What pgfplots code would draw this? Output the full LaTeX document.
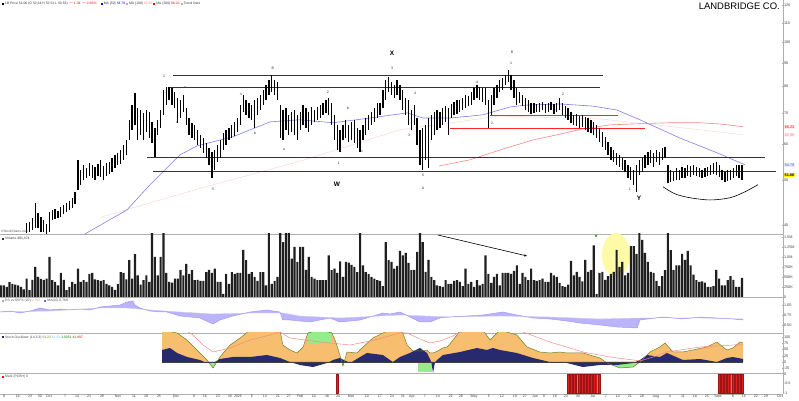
\documentclass[border=0pt]{standalone}
\usepackage{pgfplots}
\pgfplotsset{compat=1.18}
\usepackage{pgfplotstable}
\usetikzlibrary{arrows.meta}
\usepackage{fontspec}
\setmainfont{Liberation Sans}

\definecolor{maBlue}{RGB}{130,125,235}
\definecolor{maRed}{RGB}{240,110,100}
\definecolor{maPink}{RGB}{248,215,215}
\definecolor{stOrange}{RGB}{246,190,110}
\definecolor{stNavy}{RGB}{40,42,112}
\definecolor{stGreen}{RGB}{150,235,140}
\definecolor{stOlive}{RGB}{110,130,40}
\definecolor{rsPurple}{RGB}{165,155,245}
\definecolor{axGray}{RGB}{175,175,175}
\definecolor{barRed}{RGB}{220,30,30}

\pgfplotstableread{
h l v
36.8 35.2 290
37.0 35.5 290
37.4 35.8 250
37.2 35.6 370
37.8 36.0 330
37.5 36.1 310
37.9 36.3 290
38.2 36.5 250
38.0 36.6 190
40.4 38.4 460
40.6 38.6 170
41.4 39.0 430
44.6 39.4 750
42.4 39.4 500
41.6 38.6 450
41.0 38.6 430
40.2 38.0 460
42.7 38.6 1000
43.1 41.0 420
43.3 41.2 380
42.9 41.4 290
43.8 41.6 600
44.2 42.2 430
44.6 42.7 170
45.1 43.1 250
45.8 43.5 380
47.2 44.4 330
55.4 47.7 710
52.7 48.9 380
54.0 50.1 420
53.2 50.6 380
54.5 51.1 580
54.0 50.6 600
53.5 50.1 440
54.3 51.1 420
55.4 50.9 400
53.7 50.1 420
54.5 51.1 330
54.8 51.7 290
55.9 52.2 250
56.8 53.2 180
57.4 54.0 330
58.2 54.3 620
59.7 55.4 600
61.2 56.8 440
67.7 61.2 920
72.9 64.4 460
77.4 66.0 1070
71.8 61.2 540
71.1 62.8 310
70.1 61.2 420
71.1 63.8 540
70.4 61.8 380
67.0 60.3 1600
65.0 56.2 1000
67.7 62.8 540
71.1 65.0 1000
78.6 69.4 1600
79.8 72.9 600
79.8 74.8 380
79.4 72.9 360
77.8 71.8 460
75.5 66.7 460
74.8 68.3 670
76.7 70.4 540
71.8 66.0 830
68.3 62.8 580
66.7 61.8 670
66.0 61.2 420
64.4 59.7 430
62.8 58.8 400
61.8 57.4 400
60.3 55.9 620
58.8 54.0 680
57.6 50.6 600
58.2 52.7 710
59.7 54.8 380
61.2 55.9 380
63.4 58.2 80
64.4 59.7 580
65.0 61.2 330
66.0 61.8 620
67.0 62.5 580
68.3 63.8 600
72.9 66.0 600
76.7 70.4 1180
74.8 69.4 920
73.6 68.3 580
72.9 67.7 620
74.8 65.0 500
75.5 69.4 400
76.7 71.1 620
78.6 72.9 620
80.6 74.8 290
82.7 76.7 1600
84.8 77.8 330
82.7 76.7 400
81.8 74.8 500
72.9 61.8 1600
71.1 61.2 1370
71.8 64.4 1600
69.4 62.8 1600
70.4 63.8 960
71.1 62.8 1250
69.4 61.2 880
70.4 64.4 1250
72.9 66.0 1250
71.8 65.0 680
70.4 63.8 1000
72.2 66.0 500
71.1 67.0 460
72.2 67.7 420
72.9 68.3 420
73.6 69.4 420
74.8 70.1 420
75.5 69.4 1040
73.6 66.0 670
69.4 61.2 710
66.0 58.2 600
64.4 57.6 890
66.0 61.2 500
67.7 61.8 880
66.0 60.6 860
67.0 61.2 800
67.7 60.3 750
65.0 58.8 620
64.4 57.6 1600
66.0 61.2 790
68.3 62.8 620
69.4 64.4 570
70.4 66.0 500
71.8 67.0 460
73.6 68.3 420
73.6 69.4 400
78.6 71.8 270
82.7 74.8 1370
84.0 77.8 920
81.8 76.7 880
80.6 75.5 710
82.7 76.7 780
80.6 74.8 1150
78.6 71.1 1040
75.5 69.4 1100
74.8 66.0 850
71.1 64.4 670
72.9 66.0 680
68.3 59.7 1125
64.4 54.0 1600
65.0 52.7 1370
66.0 55.4 630
68.3 53.2 930
69.4 61.2 500
70.4 62.8 420
71.1 64.4 290
70.4 65.0 270
71.8 66.0 250
72.5 67.0 420
71.8 62.8 330
73.3 68.3 330
74.1 69.4 400
74.8 69.7 420
74.8 70.4 375
75.5 71.1 270
76.7 71.8 710
76.3 72.5 330
77.8 72.9 375
79.4 74.8 250
80.6 75.5 420
79.8 74.8 290
79.4 74.1 330
79.4 72.9 1040
74.8 65.0 580
76.7 69.4 350
79.4 72.9 500
80.6 75.5 580
82.7 77.8 290
83.5 78.6 600
84.8 80.6 600
86.9 81.8 600
84.8 78.6 580
82.7 75.5 650
79.4 72.9 790
77.8 73.6 330
76.7 72.5 600
75.5 71.1 500
74.8 70.4 420
73.6 69.7 710
73.6 70.1 420
73.3 70.4 400
73.6 70.4 420
74.1 71.1 460
73.3 70.1 375
73.6 70.4 375
74.1 71.1 600
73.3 69.7 540
73.6 70.4 500
75.5 71.1 350
73.6 69.4 270
72.5 68.3 250
71.8 67.7 310
70.4 66.7 900
69.4 66.0 540
69.7 65.7 625
69.0 65.0 500
69.4 65.4 390
68.7 64.4 930
68.3 63.8 625
67.7 63.4 670
67.0 62.8 1290
66.0 61.8 80
65.0 60.6 600
63.8 59.1 625
62.2 58.2 430
60.6 56.8 520
59.1 55.4 580
58.2 54.8 625
57.4 54.0 1180
56.8 53.5 750
55.9 52.7 875
55.4 52.2 540
54.0 50.6 600
53.5 50.1 1270
52.7 48.9 1270
54.0 47.2 1080
55.4 51.4 1600
55.9 52.2 1430
56.8 53.2 1100
57.6 54.0 875
58.2 54.5 625
57.4 53.5 600
58.2 54.8 400
57.6 54.0 270
58.8 55.4 520
59.1 55.9 670
54.0 49.4 1600
52.7 49.6 1170
52.2 49.9 670
53.2 50.1 790
52.7 50.1 790
53.5 50.6 1080
53.2 50.6 930
54.0 51.1 1150
53.7 50.9 790
54.0 51.4 560
53.5 51.1 420
53.2 50.9 375
52.7 50.6 390
53.2 50.9 360
53.5 51.1 250
54.0 51.4 250
54.5 51.7 270
54.8 51.4 680
54.0 50.9 460
52.7 50.1 290
52.2 49.6 290
52.7 49.9 420
52.7 50.1 520
53.2 50.6 430
54.0 51.1 250
54.0 50.6 250
54.0 50.1 475
}\bars

\pgfplotstableread{
i r
118 -1
199 -1
200 -1
201 -1
202 -1
203 -1
204 -1
205 -1
206 -1
207 -1
208 -1
209 -1
210 -1
252 -1
253 -1
254 -1
255 -1
256 -1
257 -1
258 -1
259 -1
260 -1
}\redbars

\pgfplotsset{
  panel/.style={scale only axis, width=783bp, xmin=-0.35, xmax=274.4,
    anchor=north west, axis x line*=bottom, axis y line*=right,
    x axis line style={axGray, line width=0.4bp},
    y axis line style={axGray, line width=0.4bp},
    xtick=\empty, major tick length=1.5bp, tick style={axGray},
    yticklabel style={font=\fontsize{3.8}{4}\selectfont, text=black!75, inner sep=0.8bp},
    /pgf/number format/assume math mode=true, clip=true},
}
\tikzset{tinylab/.style={font=\fontsize{3.6}{4}\selectfont, inner sep=0pt, text=black!80}}

\begin{document}
\begin{tikzpicture}
\useasboundingbox (0,0) rectangle (799bp,401bp);

% ---------------- price panel ----------------
\begin{axis}[panel, at={(0,401bp)}, height=234bp, ymode=log, ymin=38.2, ymax=123.4,
  ytick={40,50,60,70,80,90,100,110,120}, yticklabels={40,50,60,70,80,90,100,110,120}]
\addplot[maPink, line width=0.5bp] coordinates {(34.7,41.5) (69.8,48.0) (104.9,55.0) (140,64.4) (175.1,69.0) (210.2,68.0) (245.3,64.4) (260.4,62.8)};
\addplot[maBlue, line width=0.6bp] coordinates {(24.2,37.1) (28.8,38.0) (44.2,43.1) (52.3,48.9) (62.8,56.8) (68.8,59.4) (81.4,62.2) (94.4,67.0) (104.9,67.7) (116.5,66.7) (129.5,68.3) (142.5,70.1) (148.1,68.3) (157.5,68.3) (169.1,69.4) (178.6,72.2) (184.6,72.9) (196.1,73.3) (207.7,72.5) (216.1,71.1) (224.2,67.7) (238.2,61.8) (251.2,57.4) (261.1,54.0)};
\addplot[maRed!80, line width=0.6bp] coordinates {(153.7,53.7) (164.6,55.4) (175.1,58.2) (186.7,61.2) (196.1,63.0) (204.2,64.7) (213.7,66.0) (221.8,66.3) (234.7,66.7) (245.3,66.7) (252.3,66.3) (260.4,65.4)};
% trend lines
\addplot[black!80, line width=0.6bp] coordinates {(60.4,84.4) (211.2,84.4)};
\addplot[black!80, line width=0.6bp] coordinates {(59.3,79.8) (210.2,79.8)};
\addplot[black!80, line width=0.6bp] coordinates {(51.2,56.2) (268.1,56.2)};
\addplot[black!80, line width=0.6bp] coordinates {(53.3,52.4) (272,52.4)};
\addplot[red!85, line width=0.9bp] coordinates {(171.6,69.1) (216.5,69.1)};
\addplot[red!85, line width=0.9bp] coordinates {(157.5,64.7) (226,64.7)};
\addplot[black, line width=0.6bp, smooth] coordinates {(232.3,48.4) (236.5,46.7) (241.8,45.8) (248.8,45.3) (255.8,45.8) (261.1,47.2) (265.6,48.9)};
% OHLC range bars
\addplot[draw=none, mark=none, forget plot,
  error bars/.cd, y dir=plus, y explicit, error mark=none,
  error bar style={draw=black, line width=1.3bp}]
  table[x expr=\coordindex, y=l, y error plus expr=\thisrow{h}-\thisrow{l}] {\bars};
% wave labels
\node[tinylab] at (axis cs:57.2,84.4) {1};
\node[tinylab] at (axis cs:95.4,87.8) {B};
\node[tinylab] at (axis cs:137.2,87.8) {3};
\node[tinylab] at (axis cs:114.7,77.8) {2};
\node[tinylab] at (axis cs:84.2,77.1) {4};
\node[tinylab] at (axis cs:64.6,79.4) {a};
\node[tinylab] at (axis cs:121.8,71.9) {b};
\node[tinylab] at (axis cs:179.3,95.1) {B};
\node[tinylab] at (axis cs:179.0,90.0) {1};
\node[tinylab] at (axis cs:167.0,81.8) {4};
\node[tinylab] at (axis cs:197.2,77.1) {2};
\node[tinylab] at (axis cs:145.3,77.4) {4};
\node[tinylab] at (axis cs:61.8,66.7) {c};
\node[tinylab] at (axis cs:89.1,63.4) {b};
\node[tinylab] at (axis cs:99.3,58.2) {a};
\node[tinylab] at (axis cs:118.6,54.5) {1};
\node[tinylab] at (axis cs:126.7,57.6) {c};
\node[tinylab] at (axis cs:143.2,62.8) {3};
\node[tinylab] at (axis cs:172.3,66.4) {2};
\node[tinylab] at (axis cs:74.4,47.7) {5};
\node[tinylab] at (axis cs:148.1,51.2) {5};
\node[tinylab] at (axis cs:148.1,48.1) {A};
\node[tinylab] at (axis cs:220.7,47.9) {1};
\node[font=\bfseries\fontsize{6.5}{7}\selectfont, inner sep=0pt] at (axis cs:137.2,94.6) {X};
\node[font=\bfseries\fontsize{6.5}{7}\selectfont, inner sep=0pt] at (axis cs:117.9,48.9) {W};
\node[font=\bfseries\fontsize{6.5}{7}\selectfont, inner sep=0pt] at (axis cs:223.9,45.6) {Y};
\end{axis}

% right-side price value tags
\node[font=\fontsize{3.8}{4}\selectfont, text=red, fill=red!8, inner sep=0.6bp, anchor=west] at (784bp,274bp) {66.23};
\node[font=\fontsize{3.8}{4}\selectfont, text=red!50, fill=red!5, inner sep=0.6bp, anchor=west] at (784bp,266bp) {62.95};
\node[font=\fontsize{3.8}{4}\selectfont, text=blue!70, fill=blue!8, inner sep=0.6bp, anchor=west] at (784bp,236bp) {54.79};
\node[font=\bfseries\fontsize{3.8}{4}\selectfont, fill=yellow, inner sep=0.5bp, anchor=west] at (784bp,226bp) {51.06};

% titles / legends
\node[anchor=base east, inner sep=0pt, font=\fontsize{9.5}{10}\selectfont] at (780bp,391bp) {LANDBRIDGE CO.};
\node[anchor=base west, inner sep=0pt, font=\fontsize{3.4}{4}\selectfont, text=black!80] at (2bp,396bp)
 {\textcolor{black}{\rule{2bp}{2bp}} LB Price 51.06 (O 52.34 H 52.51 L 50.53) \textcolor{red}{$-$1.34 $-$2.56\%} \quad
  \textcolor{blue}{\rule{2bp}{2bp}} MA (50) \textcolor{blue}{54.79} \textcolor{red!40}{\rule{2bp}{2bp}} MA (100) \textcolor{red!50}{62.95}
  \textcolor{red}{\rule{2bp}{2bp}} MA (200) \textcolor{red}{66.23} \textcolor{black!30}{\rule{2bp}{2bp}} Trend lines};
\node[anchor=base west, inner sep=0pt, font=\fontsize{3.2}{4}\selectfont, text=black!70] at (1bp,168bp) {\textcopyright StockCharts.com};

% ---------------- volume panel ----------------
\begin{axis}[panel, at={(0,167bp)}, height=63bp, ymin=0, ymax=1575,
  ytick={0,250,500,750,1000,1250,1500}, yticklabels={0,250K,500K,750K,1.0M,1.25M,1.5M}]
\fill[yellow!35] (axis cs:215.8,1050) ellipse [x radius=14bp, y radius=22bp];
\addplot[ybar, bar width=2.15bp, fill=black!88, draw=none, forget plot]
  table[x expr=\coordindex, y=v] {\bars};
\addplot[black, line width=0.6bp, -{Stealth[length=3bp]}] coordinates {(153.3,1550) (184.6,1025)};
\addplot[only marks, mark=*, mark size=0.8bp, green!60!black] coordinates {(208.8,1530)};
\end{axis}
\node[anchor=base west, inner sep=0pt, font=\fontsize{3.4}{4}\selectfont, text=black!80] at (2bp,161bp) {\rule{2bp}{2bp} Volume 461,474};

% ---------------- RS panel ----------------
\begin{axis}[panel, at={(0,104bp)}, height=36bp, ymin=-18, ymax=18,
  ytick={-10,0,10}, yticklabels={0.50,0.75,1.00}]
\addplot[fill=rsPurple!75, draw=none] coordinates {(-0.35,3) (3.2,4) (6.7,2) (10.2,4) (13.7,7) (17.2,5) (20.7,6) (24.2,5) (27.7,6) (31.2,5) (34.7,8) (38.2,9) (41.8,10) (44.2,13) (46.3,14) (47,10) (48.8,7) (52.3,4) (55.8,3) (58.2,3) (62.8,-1) (69.8,-3) (74.4,-9) (76.8,-5) (81.4,-1) (87.4,3) (93.3,5) (97.9,3) (98.9,-5) (101.4,-5) (104.9,-6) (108.4,-7) (111.9,-5) (115.4,-3) (118.9,-7) (122.5,-6) (126,-5) (129.5,-2) (134,2) (136.5,1) (140,3) (143.5,-2) (147,-7) (150.5,-7) (154,-3) (157.5,-2) (163.5,-1) (169.1,0) (176.1,3) (181,0) (186.7,-3) (192.6,-4) (198.6,-6) (203.2,-8) (210.2,-10) (216.1,-12) (223.2,-13) (224.2,-5) (232.3,-2) (239.3,-4) (245.3,-2) (251.2,-3) (256.8,-4) (260.4,-5)
 (260.4,-4) (245.3,-3) (224.2,-3) (210.2,-4) (192.6,-2) (175.1,-1) (157.5,-2) (140,0) (118.9,-3) (104.9,-1) (98.9,2) (87.4,2) (74.4,1) (62.8,3) (52.3,5) (44.2,7) (34.7,7) (17.2,4) (-0.35,3)} -- cycle;
\addplot[rsPurple!55, line width=0.4bp] coordinates {(-0.35,3) (17.2,4) (34.7,7) (44.2,7) (52.3,5) (62.8,3) (74.4,1) (87.4,2) (98.9,2) (104.9,-1) (118.9,-3) (140,0) (157.5,-2) (175.1,-1) (192.6,-2) (210.2,-4) (224.2,-3) (245.3,-3) (260.4,-4)};
\addplot[rsPurple, line width=0.5bp] coordinates {(-0.35,3) (3.2,4) (6.7,2) (10.2,4) (13.7,7) (17.2,5) (20.7,6) (24.2,5) (27.7,6) (31.2,5) (34.7,8) (38.2,9) (41.8,10) (44.2,13) (46.3,14) (47,10) (48.8,7) (52.3,4) (55.8,3) (58.2,3) (62.8,-1) (69.8,-3) (74.4,-9) (76.8,-5) (81.4,-1) (87.4,3) (93.3,5) (97.9,3) (98.9,-5) (101.4,-5) (104.9,-6) (108.4,-7) (111.9,-5) (115.4,-3) (118.9,-7) (122.5,-6) (126,-5) (129.5,-2) (134,2) (136.5,1) (140,3) (143.5,-2) (147,-7) (150.5,-7) (154,-3) (157.5,-2) (163.5,-1) (169.1,0) (176.1,3) (181,0) (186.7,-3) (192.6,-4) (198.6,-6) (203.2,-8) (210.2,-10) (216.1,-12) (223.2,-13) (224.2,-5) (232.3,-2) (239.3,-4) (245.3,-2) (251.2,-3) (256.8,-4) (260.4,-5)};
\end{axis}
\node[anchor=base west, inner sep=0pt, font=\fontsize{3.4}{4}\selectfont, text=black!70] at (2bp,99bp) {\textcolor{rsPurple}{\rule{2bp}{2bp}} RS vs \$SPX (20) \textcolor{red!50}{0.752} \quad \textcolor{blue!60}{\rule{2bp}{2bp}} MA(20) 0.760};

% ---------------- stochastic panel ----------------
\begin{axis}[panel, at={(0,68bp)}, height=40bp, ymin=-44, ymax=116,
  ytick={-25,0,25,50,75,100}]
\addplot[fill=stOrange, draw=none] coordinates {(56.5,0) (56.5,128) (61.8,116) (65.3,88) (68.8,48) (72.3,8) (74.4,-24) (76.8,20) (80.4,68) (83.9,96) (87.4,128) (97.9,128) (98.9,68) (101.4,48) (103.9,36) (106,60) (107.7,116) (111.9,128) (116.1,116) (117.5,80) (118.9,28) (120,-16) (121.4,40) (124.9,36) (127,60) (130.5,96) (134,116) (136.5,128) (140,128) (141,116) (142.5,68) (144.6,44) (146,44) (148.1,44) (149.5,48) (150.5,36) (151.6,36) (153.3,44) (155,56) (156.5,60) (157.5,72) (158.6,88) (160,108) (161,128) (169.1,128) (171.6,88) (175.1,128) (181,108) (184.6,60) (189.1,40) (192.6,36) (196.1,40) (198.6,36) (204.2,36) (210.2,16) (212.6,-4) (217.2,-24) (221.8,-20) (224.2,0) (227.7,40) (231.2,60) (233,76) (235.8,40) (239.3,40) (242.8,48) (247.7,60) (251.2,80) (254.7,48) (256.8,56) (259.3,80) (260.4,76) (260.4,0)} -- cycle;
\addplot[fill=stGreen, draw=none] coordinates {(72.8,0) (74.4,-24) (75.7,0)} -- cycle;
\addplot[fill=stGreen, draw=none] coordinates {(119.6,0) (120,-16) (120.4,0)} -- cycle;
\addplot[fill=stGreen, draw=none] coordinates {(146.3,0) (146.3,-40) (151.2,-40) (151.2,0)} -- cycle;
\addplot[fill=stGreen, draw=none] coordinates {(212.1,0) (212.6,-4) (217.2,-24) (221.8,-20) (224.2,0)} -- cycle;
\addplot[fill=stGreen, draw=none] coordinates {(107.7,76) (107.7,130) (116.1,130) (116.1,76)} -- cycle;
\addplot[fill=stNavy, draw=none] coordinates {(56.5,0) (56.5,48) (59.3,56) (61.8,36) (65.3,20) (69.8,8) (72.3,-4) (74.4,-4) (76.8,12) (81.4,20) (87.4,20) (93.3,28) (97.9,16) (101.4,0) (104.9,-12) (109.5,-20) (114.4,-4) (116.5,8) (118.9,16) (122.5,-4) (126,20) (128.4,36) (134,28) (137.5,0) (140,20) (143.5,36) (147,56) (149.5,36) (151,0) (151.6,-44) (152.3,0) (153,8) (155.1,28) (161.1,40) (167,56) (170.5,48) (172.6,56) (175.1,48) (181,36) (186.7,16) (192.6,0) (198.6,-4) (204.2,-20) (210.2,-12) (216.1,-12) (221.8,-4) (224.2,8) (226.7,28) (231.2,20) (233.7,36) (239.3,8) (245.3,12) (251.2,0) (254.7,16) (256.8,20) (260.4,12) (260.4,0)} -- cycle;
\addplot[stOlive, line width=0.5bp] coordinates {(56.5,128) (61.8,116) (65.3,88) (68.8,48) (72.3,8) (74.4,-24) (76.8,20) (80.4,68) (83.9,96) (87.4,128) (97.9,128) (98.9,68) (101.4,48) (103.9,36) (106,60) (107.7,116) (111.9,128) (116.1,116) (117.5,80) (118.9,28) (120,-16) (121.4,40) (124.9,36) (127,60) (130.5,96) (134,116) (136.5,128) (140,128) (141,116) (142.5,68) (144.6,44) (146,44) (148.1,44) (149.5,48) (150.5,36) (151.6,36) (153.3,44) (155,56) (156.5,60) (157.5,72) (158.6,88) (160,108) (161,128) (169.1,128) (171.6,88) (175.1,128) (181,108) (184.6,60) (189.1,40) (192.6,36) (196.1,40) (198.6,36) (204.2,36) (210.2,16) (212.6,-4) (217.2,-24) (221.8,-20) (224.2,0) (227.7,40) (231.2,60) (233,76) (235.8,40) (239.3,40) (242.8,48) (247.7,60) (251.2,80) (254.7,48) (256.8,56) (259.3,80) (260.4,76)};
\addplot[maRed!80, line width=0.5bp] coordinates {(64.6,128) (67.4,108) (70.9,68) (74.4,40) (80.4,56) (87.4,88) (94.4,108) (97.9,120) (101.4,96) (111.9,80) (122.5,68) (131.2,88) (140,116) (142.5,116) (147,92) (150.5,76) (154,84) (158.6,104) (160.5,116) (163.5,128) (175.1,128) (183.2,120) (192.6,80) (204.2,40) (213.7,20) (221.8,8) (224.2,4) (228.8,20) (233.7,40) (245.3,60) (256.8,68) (260.4,68)};
\addplot[black!75, line width=0.5bp] coordinates {(56.5,0) (260.4,0)};
\end{axis}
\node[anchor=base west, inner sep=0pt, font=\fontsize{3.4}{4}\selectfont, text=black!70] at (2bp,62.5bp) {\textcolor{stNavy}{\rule{2bp}{2bp}} Stoch Oscillator (14,3,3) \textcolor{stOlive}{54.22} \textcolor{cyan!60}{61.50} \textcolor{green!50!black}{3.0051} \textcolor{red}{41.897}};

% ---------------- signal panel ----------------
\begin{axis}[panel, at={(0,28bp)}, height=21bp, ymin=-1.05, ymax=0.05,
  ytick={-1,-0.5,0}, yticklabels={-1,-0.5,0},
  xtick={1.05,5.96,10.18,13.68,16.84,22.46,26.67,30.88,35.44,41.05,46.67,50.88,55.44,61.4,67.72,71.58,76.14,80.35,83.16,88.07,92.63,97.19,101.05,104.91,109.82,114.39,118.25,122.81,128.42,132.98,137.19,141.05,144.21,148.77,153.33,157.89,161.4,165.96,171.23,175.79,180.35,183.86,187.37,190.53,194.39,198.25,202.46,207.72,212.28,216.49,220.7,224.91,229.82,234.74,239.3,243.51,247.72,251.58,256.84,260.7,264.91,268.42,273.33},
  xticklabels={9,16,23,30,Oct,7,14,21,28,Nov,11,18,25,Dec,9,16,23,30,2025,6,13,21,27,Feb,10,18,24,Mar,10,17,24,31,Apr,7,14,21,28,May,5,12,19,27,Jun,9,16,23,30,Jul,7,14,21,28,Aug,4,11,18,25,Sept,8,15,22,29,Oct},
  xticklabel style={font=\fontsize{3.6}{4}\selectfont, text=black!75, inner sep=0.5bp},
  major tick length=0bp]
\addplot[ybar, bar width=2.1bp, fill=barRed, draw=barRed!70!black, line width=0.2bp]
  table[x=i, y=r] {\redbars};
\end{axis}
\node[anchor=base west, inner sep=0pt, font=\fontsize{3.4}{4}\selectfont, text=black!70] at (2bp,23.5bp) {\textcolor{red}{\rule{2bp}{2bp}} Mark (PCBH) 0};
\end{tikzpicture}
\end{document}
